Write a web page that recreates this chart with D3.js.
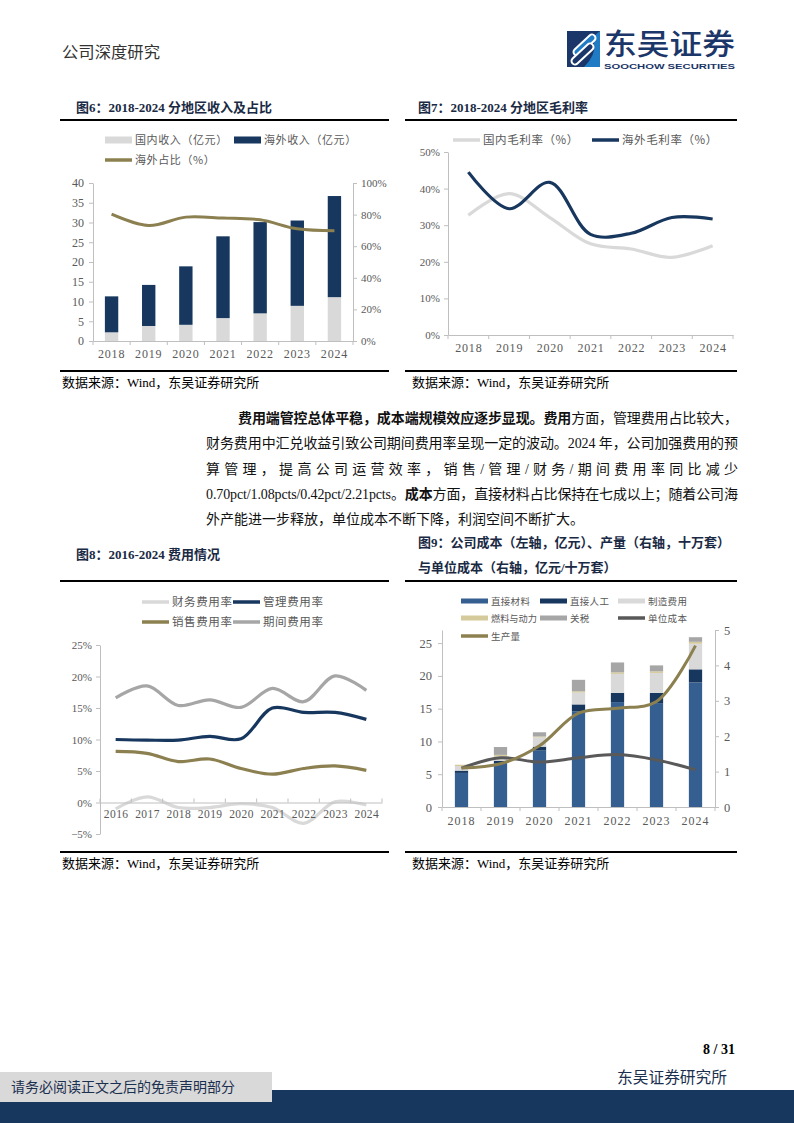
<!DOCTYPE html>
<html><head><meta charset="utf-8">
<script src="https://cdn.jsdelivr.net/npm/d3@7"></script>
<style>
body{margin:0;background:#fff;}
#page{position:relative;width:794px;height:1123px;overflow:hidden;background:#fff;}
svg{position:absolute;left:0;top:0;}
</style></head>
<body><div id="page"></div>
<script>
// ---------- DATA ----------
const years6 = ["2018","2019","2020","2021","2022","2023","2024"];
const domestic6 = [2.2, 3.8, 4.1, 5.8, 7.0, 8.9, 11.1];
const overseas6 = [9.1, 10.4, 14.8, 20.7, 23.1, 21.6, 25.6];
const share6 = [80.3, 73.1, 78.4, 77.8, 76.7, 71.0, 69.8];
const ticks6L = [0,5,10,15,20,25,30,35,40];
const ticks6R = [0,20,40,60,80,100];

const years7 = ["2018","2019","2020","2021","2022","2023","2024"];
const domMargin7 = [32.7, 38.6, 32.1, 24.9, 23.5, 21.2, 24.4];
const ovsMargin7 = [44.5, 34.5, 41.7, 27.5, 27.8, 32.1, 31.7];
const ticks7 = [0,10,20,30,40,50];

const years8 = ["2016","2017","2018","2019","2020","2021","2022","2023","2024"];
const finance8 = [-1.0, 0.9, -0.8, -0.8, -0.2, -0.8, -3.3, 0.1, -0.4];
const admin8 = [10.0, 9.9, 9.9, 10.5, 10.1, 15.0, 14.3, 14.3, 13.2];
const sales8 = [8.1, 7.8, 6.5, 6.9, 5.4, 4.5, 5.4, 5.8, 5.1];
const period8 = [16.6, 18.5, 15.4, 16.3, 15.1, 18.1, 16.0, 20.1, 17.8];
const ticks8 = [-5,0,5,10,15,20,25];

const years9 = ["2018","2019","2020","2021","2022","2023","2024"];
const material9 = [5.2, 6.7, 8.6, 14.6, 16.0, 15.85, 19.0];
const labor9 = [0.35, 0.35, 0.6, 1.05, 1.4, 1.55, 2.0];
const mfg9 = [0.7, 0.65, 1.4, 1.8, 2.9, 3.05, 3.9];
const fuel9 = [0.2, 0.25, 0.15, 0.2, 0.25, 0.25, 0.3];
const tariff9 = [0, 1.2, 0.65, 1.75, 1.5, 0.9, 0.7];
const unitCost9 = [1.10, 1.39, 1.27, 1.39, 1.48, 1.33, 1.05];
const output9 = [1.10, 1.22, 1.73, 2.65, 2.79, 2.98, 4.56];
const ticks9L = [0,5,10,15,20,25];
const ticks9R = [0,1,2,3,4,5];

// ---------- STYLE ----------
const SERIF = '"Liberation Serif","Noto Sans CJK SC",serif';
const CJK = '"Noto Sans CJK SC","Liberation Serif",sans-serif';
const NAVY = "#17375E", OLIVE = "#8C8050", LGREY = "#D9D9D9", MGREY = "#A6A6A6";
const AXIS = "#BFBFBF", LBL = "#595959";

const svg = d3.select("#page").append("svg").attr("width",794).attr("height",1123);

function text(g, x, y, s, o={}) {
  const t = g.append("text").attr("x",x).attr("y",y).text(s)
    .attr("font-family", o.family || SERIF).attr("font-size", o.size || 13)
    .attr("fill", o.fill || "#000");
  if (o.weight) t.attr("font-weight", o.weight);
  if (o.anchor) t.attr("text-anchor", o.anchor);
  if (o.ls !== undefined) t.attr("letter-spacing", o.ls);
  if (o.len) t.attr("textLength", o.len).attr("lengthAdjust","spacingAndGlyphs");
  return t;
}
function styleAxis(a, size) {
  a.select("path.domain").attr("stroke", AXIS);
  a.selectAll(".tick line").attr("stroke", AXIS);
  a.selectAll(".tick text").attr("fill", LBL).attr("font-family", SERIF).attr("font-size", size || 12);
}
function rule(x1, x2, y) {
  svg.append("line").attr("x1",x1).attr("x2",x2).attr("y1",y).attr("y2",y).attr("stroke","#000").attr("stroke-width",2.2);
}
function legLine(g, x, y, color, label, size, ls) {
  g.append("line").attr("x1",x).attr("x2",x+27).attr("y1",y).attr("y2",y).attr("stroke",color).attr("stroke-width",3.5);
  text(g, x+30, y+4, label, {size: size||11, fill: LBL, family: CJK, ls: ls===undefined?0.6:ls});
}
function legRect(g, x, y, color, label, size, h, ls) {
  h = h || 7;
  g.append("rect").attr("x",x).attr("y",y-h/2).attr("width",27).attr("height",h).attr("fill",color);
  text(g, x+30, y+4, label, {size: size||11, fill: LBL, family: CJK, ls: ls===undefined?0.6:ls});
}
function catTicks(g, x0, step, n, y, dir) {
  for (let i=0;i<=n;i++) g.append("line").attr("x1",x0+i*step).attr("x2",x0+i*step)
    .attr("y1",y).attr("y2",y+dir*4).attr("stroke",AXIS);
}

// ---------- HEADER ----------
text(svg, 62, 58, "公司深度研究", {size:16, family: CJK, fill:"#333", len: 98});
// logo
const lg = svg.append("g");
lg.append("rect").attr("x",567).attr("y",31).attr("width",33).attr("height",36).attr("fill","#1B3668");
lg.append("path").attr("d","M600,31 L600,67 L584,67 Q596,55 594,44 Q592,36 600,31 Z").attr("fill","#1F7BC4");
lg.append("line").attr("x1",592).attr("y1",38).attr("x2",577).attr("y2",52).attr("stroke","#fff").attr("stroke-width",9).attr("stroke-linecap","round");
lg.append("line").attr("x1",592).attr("y1",38).attr("x2",577).attr("y2",52).attr("stroke","#1F7BC4").attr("stroke-width",5).attr("stroke-linecap","round");
lg.append("line").attr("x1",590).attr("y1",47).attr("x2",575).attr("y2",61).attr("stroke","#fff").attr("stroke-width",9).attr("stroke-linecap","round");
lg.append("line").attr("x1",590).attr("y1",47).attr("x2",575).attr("y2",61).attr("stroke","#1B3668").attr("stroke-width",5).attr("stroke-linecap","round");
text(lg, 604, 55, "东吴证券", {size:29, family: CJK, fill:"#1B3668", weight:500, len:131});
text(lg, 604, 69, "SOOCHOW SECURITIES", {size:8, family:'"Liberation Sans",sans-serif', fill:"#1B3668", weight:"bold", len:131});

// ---------- CHART 6 ----------
(function(){
  const g = svg.append("g");
  text(g, 76, 112, "图6：2018-2024 分地区收入及占比", {size:13, weight:"bold", fill:"#1a2a44"});
  rule(60, 389, 120);
  legRect(g, 105, 140, LGREY, "国内收入（亿元）");
  legRect(g, 234, 140, NAVY, "海外收入（亿元）");
  legLine(g, 105, 160, OLIVE, "海外占比（%）");
  const x = d3.scaleBand().domain(years6).range([93,353]).paddingInner(0.64).paddingOuter(0.32);
  const y = d3.scaleLinear().domain([0,40]).range([341,183]);
  const yR = d3.scaleLinear().domain([0,100]).range([341,183]);
  const aL = g.append("g").attr("transform","translate(93,0)").call(d3.axisLeft(y).tickValues(ticks6L).tickSize(4).tickPadding(5).tickSizeOuter(0));
  styleAxis(aL);
  const aR = g.append("g").attr("transform","translate(353,0)").call(d3.axisRight(yR).tickValues(ticks6R).tickFormat(d=>d+"%").tickSize(4).tickPadding(4).tickSizeOuter(0));
  styleAxis(aR, 11);
  const aB = g.append("g").attr("transform","translate(0,341)").call(d3.axisBottom(x).tickSize(0).tickPadding(8).tickSizeOuter(0));
  styleAxis(aB); aB.selectAll(".tick text").attr("letter-spacing",0.8);
  catTicks(g, 93, x.step(), 7, 341, 1);
  const rows = years6.map((yr,i)=>({yr, dom: domestic6[i], ovs: overseas6[i]}));
  const st = d3.stack().keys(["dom","ovs"])(rows);
  const cols = {dom: LGREY, ovs: NAVY};
  st.forEach(s => g.selectAll(null).data(s).join("rect")
    .attr("x", d=>x(d.data.yr)).attr("width", x.bandwidth())
    .attr("y", d=>y(d[1])).attr("height", d=>y(d[0])-y(d[1])).attr("fill", cols[s.key]));
  g.append("path").datum(share6).attr("fill","none").attr("stroke",OLIVE).attr("stroke-width",3)
    .attr("d", d3.line().x((d,i)=>x(years6[i])+x.bandwidth()/2).y(d=>yR(d)).curve(d3.curveCatmullRom.alpha(0.5)));
  rule(60, 389, 371);
  text(g, 62, 387, "数据来源：Wind，东吴证券研究所", {size:13, family: SERIF});
})();

// ---------- CHART 7 ----------
(function(){
  const g = svg.append("g");
  text(g, 418, 112, "图7：2018-2024 分地区毛利率", {size:13, weight:"bold", fill:"#1a2a44"});
  rule(405, 737, 120);
  legLine(g, 453, 140, LGREY, "国内毛利率（%）", 11.5);
  legLine(g, 592, 140, NAVY, "海外毛利率（%）", 11.5);
  const x = d3.scalePoint().domain(years7).range([448,733]).padding(0.5);
  const y = d3.scaleLinear().domain([0,50]).range([335,152]);
  const aL = g.append("g").attr("transform","translate(448,0)").call(d3.axisLeft(y).tickValues(ticks7).tickFormat(d=>d+"%").tickSize(4).tickPadding(4).tickSizeOuter(0));
  styleAxis(aL, 11);
  const aB = g.append("g").attr("transform","translate(0,335)").call(d3.axisBottom(x).tickSize(0).tickPadding(8).tickSizeOuter(0));
  styleAxis(aB); aB.selectAll(".tick text").attr("letter-spacing",0.8);
  catTicks(g, 448, x.step(), 7, 335, 1);
  const line = d3.line().x((d,i)=>x(years7[i])).y(d=>y(d)).curve(d3.curveCatmullRom.alpha(0.5));
  g.append("path").datum(domMargin7).attr("fill","none").attr("stroke",LGREY).attr("stroke-width",3.2).attr("d",line);
  g.append("path").datum(ovsMargin7).attr("fill","none").attr("stroke",NAVY).attr("stroke-width",3.2).attr("d",line);
  rule(405, 737, 371);
  text(g, 412, 387, "数据来源：Wind，东吴证券研究所", {size:13, family: SERIF});
})();

// ---------- PARAGRAPH ----------
(function(){
  const g = svg.append("g").attr("font-family", SERIF).attr("font-size", 14).attr("fill","#111");
  const lines = [
    {x:238, y:423, w:500, parts:[["费用端管控总体平稳，成本端规模效应逐步显现。费用",true],["方面，管理费用占比较大，",false]]},
    {x:206, y:448, w:532, parts:[["财务费用中汇兑收益引致公司期间费用率呈现一定的波动。2024 年，公司加强费用的预",false]]},
    {x:206, y:474, w:532, parts:[["算管理，提高公司运营效率，销售/管理/财务/期间费用率同比减少",false]]},
    {x:206, y:499, w:532, parts:[["0.70pct/1.08pcts/0.42pct/2.21pcts。",false],["成本",true],["方面，直接材料占比保持在七成以上；随着公司海",false]]},
    {x:206, y:524, w:0, parts:[["外产能进一步释放，单位成本不断下降，利润空间不断扩大。",false]]}
  ];
  lines.forEach(l=>{
    const t = g.append("text").attr("x",l.x).attr("y",l.y);
    if (l.w) t.attr("textLength", l.w).attr("lengthAdjust","spacing");
    l.parts.forEach(p=>t.append("tspan").text(p[0]).attr("font-weight", p[1]?"bold":"normal"));
  });
})();

// ---------- CHART 8 ----------
(function(){
  const g = svg.append("g");
  text(g, 76, 559, "图8：2016-2024 费用情况", {size:13, weight:"bold", fill:"#1a2a44"});
  rule(60, 389, 581);
  legLine(g, 142, 602, LGREY, "财务费用率", 11.5);
  legLine(g, 233, 602, NAVY, "管理费用率", 11.5);
  legLine(g, 142, 622, OLIVE, "销售费用率", 11.5);
  legLine(g, 233, 622, MGREY, "期间费用率", 11.5);
  const x = d3.scalePoint().domain(years8).range([100,382]).padding(0.5);
  const y = d3.scaleLinear().domain([-5,25]).range([834,645]);
  const aL = g.append("g").attr("transform","translate(100,0)").call(d3.axisLeft(y).tickValues(ticks8).tickFormat(d=>(d<0?"−":"")+Math.abs(d)+"%").tickSize(4).tickPadding(4).tickSizeOuter(0));
  styleAxis(aL, 11);
  const y0 = y(0);
  const line = d3.line().x((d,i)=>x(years8[i])).y(d=>y(d)).curve(d3.curveCatmullRom.alpha(0.5));
  [[finance8,LGREY],[admin8,NAVY],[sales8,OLIVE],[period8,MGREY]].forEach(s=>
    g.append("path").datum(s[0]).attr("fill","none").attr("stroke",s[1]).attr("stroke-width",3.2).attr("d",line));
  const aB = g.append("g").attr("transform","translate(0,"+y0+")").call(d3.axisBottom(x).tickSize(0).tickPadding(7).tickSizeOuter(0));
  styleAxis(aB, 11.5); aB.selectAll(".tick text").attr("letter-spacing",0.4);
  catTicks(g, 100, x.step(), 9, y0, -1);
  rule(60, 389, 852);
  text(g, 62, 868, "数据来源：Wind，东吴证券研究所", {size:13, family: SERIF});
})();

// ---------- CHART 9 ----------
(function(){
  const g = svg.append("g");
  text(g, 418, 547, "图9：公司成本（左轴，亿元）、产量（右轴，十万套）", {size:13, weight:"bold", fill:"#1a2a44"});
  text(g, 418, 572, "与单位成本（右轴，亿元/十万套）", {size:13, weight:"bold", fill:"#1a2a44"});
  rule(405, 737, 581);
  const C = {material:"#365F91", labor:NAVY, mfg:LGREY, fuel:"#D5CA9C", tariff:MGREY};
  legRect(g, 461, 601, C.material, "直接材料", 9.5, 5, 0.3);
  legRect(g, 540, 601, C.labor, "直接人工", 9.5, 5, 0.3);
  legRect(g, 618, 601, C.mfg, "制造费用", 9.5, 5, 0.3);
  legRect(g, 461, 618, C.fuel, "燃料与动力", 9.2, 5, 0);
  legRect(g, 540, 618, C.tariff, "关税", 9.5, 5, 0.3);
  legLine(g, 618, 618, "#595959", "单位成本", 9.5, 0.3);
  legLine(g, 461, 636, OLIVE, "生产量", 9.5, 0.3);
  const x = d3.scaleBand().domain(years9).range([442,715]).paddingInner(0.66).paddingOuter(0.33);
  const y = d3.scaleLinear().domain([0,27]).range([807,630]);
  const yR = d3.scaleLinear().domain([0,5]).range([807,630]);
  const aL = g.append("g").attr("transform","translate(442,0)").call(d3.axisLeft(y).tickValues(ticks9L).tickSize(4).tickPadding(6).tickSizeOuter(0));
  styleAxis(aL, 12.5);
  const aR = g.append("g").attr("transform","translate(715,0)").call(d3.axisRight(yR).tickValues(ticks9R).tickFormat(d3.format("d")).tickSize(4).tickPadding(5).tickSizeOuter(0));
  styleAxis(aR, 12.5);
  const aB = g.append("g").attr("transform","translate(0,807)").call(d3.axisBottom(x).tickSize(0).tickPadding(9).tickSizeOuter(0));
  styleAxis(aB, 12); aB.selectAll(".tick text").attr("letter-spacing",1);
  catTicks(g, 442, x.step(), 7, 807, 1);
  const rows = years9.map((yr,i)=>({yr, material:material9[i], labor:labor9[i], mfg:mfg9[i], fuel:fuel9[i], tariff:tariff9[i]}));
  const st = d3.stack().keys(["material","labor","mfg","fuel","tariff"])(rows);
  st.forEach(s => g.selectAll(null).data(s).join("rect")
    .attr("x", d=>x(d.data.yr)).attr("width", x.bandwidth())
    .attr("y", d=>y(d[1])).attr("height", d=>Math.max(0,y(d[0])-y(d[1]))).attr("fill", C[s.key]));
  const line = d3.line().x((d,i)=>x(years9[i])+x.bandwidth()/2).y(d=>yR(d)).curve(d3.curveCatmullRom.alpha(0.5));
  g.append("path").datum(unitCost9).attr("fill","none").attr("stroke","#595959").attr("stroke-width",3).attr("d",line);
  g.append("path").datum(output9).attr("fill","none").attr("stroke",OLIVE).attr("stroke-width",3).attr("d",line);
  rule(405, 737, 852);
  text(g, 412, 868, "数据来源：Wind，东吴证券研究所", {size:13, family: SERIF});
})();

// ---------- FOOTER ----------
text(svg, 735, 1054, "8 / 31", {size:14, weight:"bold", anchor:"end", family: SERIF});
text(svg, 617, 1083, "东吴证券研究所", {size:16, family: CJK, fill:"#1B2F4F", len:110});
svg.append("rect").attr("x",0).attr("y",1090).attr("width",794).attr("height",33).attr("fill",NAVY);
svg.append("rect").attr("x",0).attr("y",1072).attr("width",272).attr("height",30).attr("fill","#D9D9D9");
text(svg, 11, 1092, "请务必阅读正文之后的免责声明部分", {size:14, family: CJK, fill:"#1B2F4F", len:224});
</script>
</body></html>
